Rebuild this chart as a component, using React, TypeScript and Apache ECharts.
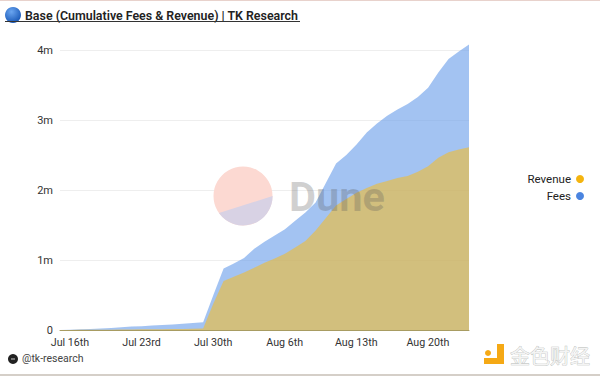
import React, { useEffect, useRef } from "react";
import * as echarts from "echarts";

const dates = [
  "Jul 16th","Jul 17th","Jul 18th","Jul 19th","Jul 20th","Jul 21st","Jul 22nd","Jul 23rd","Jul 24th","Jul 25th",
  "Jul 26th","Jul 27th","Jul 28th","Jul 29th","Jul 30th","Jul 31st","Aug 1st","Aug 2nd","Aug 3rd","Aug 4th",
  "Aug 5th","Aug 6th","Aug 7th","Aug 8th","Aug 9th","Aug 10th","Aug 11th","Aug 12th","Aug 13th","Aug 14th",
  "Aug 15th","Aug 16th","Aug 17th","Aug 18th","Aug 19th","Aug 20th","Aug 21st","Aug 22nd","Aug 23rd","Aug 24th","Aug 25th",
];
const fees = [
  0, 5e3, 1e4, 15e3, 2e4, 3e4, 4e4, 5e4, 55e3, 65e3, 7e4, 8e4, 9e4, 1e5, 11e4, 5e5,
  88e4, 95e4, 103e4, 116e4, 126e4, 135e4, 144e4, 156e4, 168e4, 182e4, 21e5, 238e4, 25e5, 265e4,
  282e4, 295e4, 306e4, 315e4, 323e4, 333e4, 346e4, 368e4, 387e4, 398e4, 408e4,
];
const revenue = [
  0, 1e3, 2e3, 3e3, 4e3, 5e3, 6e3, 8e3, 9e3, 1e4, 12e3, 14e3, 16e3, 18e3, 2e4, 38e4,
  7e5, 76e4, 82e4, 89e4, 96e4, 102e4, 109e4, 118e4, 127e4, 142e4, 16e5, 178e4, 187e4, 196e4,
  203e4, 209e4, 213e4, 217e4, 22e5, 226e4, 234e4, 246e4, 254e4, 258e4, 261e4,
];
const yTickLabels: Record<number, string> = { 0: "0", 1000000: "1m", 2000000: "2m", 3000000: "3m", 4000000: "4m" };

const FONT = "Roboto, 'Open Sans', sans-serif";

export default function App() {
  const ref = useRef<HTMLDivElement>(null);
  useEffect(() => {
    if (!ref.current) return;
    echarts.graphic.registerShape(
      "duneSegment",
      echarts.graphic.extendPath("M219 213 A29.5 29.5 0 0 0 272.6 196 Z", {})
    );
    const chart = echarts.init(ref.current, null, { renderer: "svg" });
    chart.setOption({
      animation: false,
      backgroundColor: "#fff",
      textStyle: { fontFamily: FONT },
      grid: { left: 60, right: 131, top: 36, bottom: 46 },
      legend: {
        data: [
          { name: "Revenue", itemStyle: { color: "#f4b40f", opacity: 1 } },
          { name: "Fees", itemStyle: { color: "#4a84e0", opacity: 1 } },
        ],
        orient: "vertical",
        align: "right",
        right: 11,
        top: 168,
        icon: "circle",
        itemWidth: 8,
        itemHeight: 8,
        itemGap: 5,
        textStyle: { fontFamily: FONT, fontSize: 11.5, color: "#222" },
        selectedMode: false,
      },
      xAxis: {
        type: "category",
        data: dates,
        boundaryGap: false,
        axisLine: { show: true, lineStyle: { color: "#a89c62", width: 1 } },
        axisTick: { show: false },
        splitLine: { show: false },
        axisLabel: {
          interval: 6,
          color: "#333",
          fontSize: 10.7,
          fontFamily: FONT,
          margin: 7,
          padding: [0, 0, 0, 20],
          hideOverlap: false,
        },
      },
      yAxis: {
        type: "value",
        min: 0,
        max: 4200000,
        interval: 1000000,
        axisLine: { show: false },
        axisTick: { show: false },
        splitLine: { show: true, showMaxLine: false, lineStyle: { color: "#eeeeee", width: 1 } },
        axisLabel: {
          color: "#333",
          fontSize: 11,
          fontFamily: FONT,
          margin: 7,
          showMaxLabel: false,
          formatter: (v: number) => yTickLabels[v] ?? "",
        },
      },
      series: [
        {
          name: "Fees",
          type: "line",
          data: fees,
          showSymbol: false,
          symbol: "none",
          lineStyle: { width: 0 },
          itemStyle: { color: "#4a84e0" },
          areaStyle: { color: "rgb(110,160,235)", opacity: 0.63 },
        },
        {
          name: "Revenue",
          type: "line",
          data: revenue,
          showSymbol: false,
          symbol: "none",
          lineStyle: { width: 0 },
          itemStyle: { color: "#f4b40f" },
          areaStyle: { color: "rgb(250,187,30)", opacity: 0.55 },
        },
      ],
      graphic: [
        { type: "rect", shape: { x: 0, y: 0, width: 600, height: 1 }, style: { fill: "#e8d2cc" }, silent: true },
        { type: "rect", shape: { x: 0, y: 374, width: 600, height: 2 }, style: { fill: "#d5cfc8" }, silent: true },
        {
          type: "circle",
          shape: { cx: 13, cy: 15, r: 8 },
          style: {
            fill: new echarts.graphic.RadialGradient(0.4, 0.3, 0.8, [
              { offset: 0, color: "#6aa5f0" },
              { offset: 1, color: "#0f4fb0" },
            ]),
          },
          silent: true,
        },
        {
          type: "text",
          x: 25,
          y: 9,
          style: { text: "Base (Cumulative Fees & Revenue) | TK Research", font: `600 12.4px ${FONT}`, fill: "#222" },
          silent: true,
        },
        { type: "rect", shape: { x: 5, y: 21, width: 295, height: 1 }, style: { fill: "#333" }, silent: true },
        { type: "circle", shape: { cx: 13, cy: 359, r: 5 }, style: { fill: "#222" }, silent: true },
        { type: "rect", shape: { x: 11, y: 358.5, width: 4, height: 1 }, style: { fill: "#ccc" }, silent: true },
        {
          type: "text",
          x: 22,
          y: 353,
          style: { text: "@tk-research", font: `10.5px ${FONT}`, fill: "#444" },
          silent: true,
        },
        { type: "circle", z: 50, shape: { cx: 243, cy: 196, r: 29.5 }, style: { fill: "#fcd9d2" }, silent: true },
        { type: "duneSegment", z: 51, x: 0, y: 0, style: { fill: "#d8d2e4" }, silent: true },
        {
          type: "text",
          z: 52,
          x: 289,
          y: 175,
          style: { text: "Dune", font: `bold 41.5px ${FONT}`, fill: "rgba(90,90,90,0.28)" },
          silent: true,
        },
        { type: "rect", shape: { x: 497, y: 344, width: 7, height: 14 }, style: { fill: "#f5a915" }, silent: true },
        { type: "rect", shape: { x: 484, y: 358, width: 20, height: 6 }, style: { fill: "#f5a915" }, silent: true },
        { type: "circle", shape: { cx: 488, cy: 353, r: 3 }, style: { fill: "#f5a915" }, silent: true },
        {
          type: "text",
          x: 510,
          y: 345,
          style: {
            text: "金色财经",
            font: `20px 'Noto Sans CJK SC', sans-serif`,
            fill: "#f4f4f4",
            stroke: "#b8bcb8",
            lineWidth: 0.7,
          },
          silent: true,
        },
      ],
    });
    return () => chart.dispose();
  }, []);
  return <div ref={ref} style={{ position: "absolute", left: 0, top: 0, width: 600, height: 376 }} />;
}
